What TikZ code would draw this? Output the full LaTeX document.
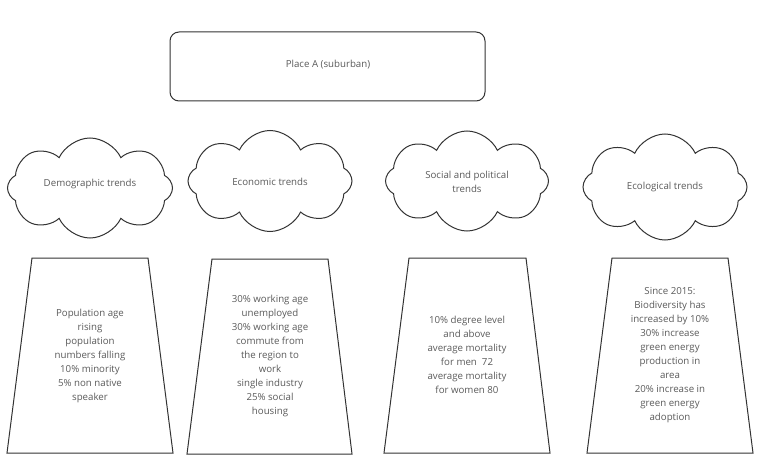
\documentclass[tikz,border=0pt]{standalone}
\usepackage{fontspec}
\setmainfont{Open Sans}
\usetikzlibrary{shapes.symbols}
\definecolor{linec}{HTML}{333333}
\definecolor{textc}{HTML}{5A5A5A}
\begin{document}
\begin{tikzpicture}[x=1pt,y=-1pt,
  box/.style={draw=linec,line width=1pt},
  cloudnode/.style={cloud,draw=linec,line width=1pt,cloud puffs=8,cloud puff arc=130,aspect=1.7,inner sep=0pt},
  txt/.style={text=textc,font=\fontsize{9.7}{14}\selectfont,align=center}]
\useasboundingbox (0,0) rectangle (768,468);
\draw[box,rounded corners=9pt] (170,32) rectangle (485,101);
\node[txt] (place) at (328,65) {Place A (suburban)};
% clouds
\node[cloudnode,minimum width=165pt,minimum height=100pt] (c1) at (90,188) {};
\node[cloudnode,minimum width=164pt,minimum height=101pt] (c2) at (270,181) {};
\node[cloudnode,minimum width=163pt,minimum height=100pt] (c3) at (467,181) {};
\node[cloudnode,minimum width=164pt,minimum height=106pt] (c4) at (665,187) {};
\node[txt] (c1t) at (90,184) {Demographic trends};
\node[txt] (c2t) at (270,182) {Economic trends};
\node[txt] (c3t) at (467,182) {Social and political\\trends};
\node[txt] (c4t) at (665,187) {Ecological trends};
% trapezoids
\draw[box] (32,258) -- (148,258) -- (173,453) -- (7,453) -- cycle;
\draw[box] (212,259) -- (328,259) -- (352,454) -- (187,454) -- cycle;
\draw[box] (409,258) -- (526,258) -- (550,453) -- (384,453) -- cycle;
\draw[box] (612,258) -- (728,258) -- (753,453) -- (587,453) -- cycle;
\node[txt] (t1) at (90,356) {Population age\\rising\\population\\numbers falling\\10\% minority\\5\% non native\\speaker};
\node[txt] (t2) at (270,356) {30\% working age\\unemployed\\30\% working age\\commute from\\the region to\\work\\single industry\\25\% social\\housing};
\node[txt] (t3) at (467,355) {10\% degree level\\and above\\average mortality\\for men\ \ 72\\average mortality\\for women 80};
\node[txt] (t4) at (670,355) {Since 2015:\\Biodiversity has\\increased by 10\%\\30\% increase\\green energy\\production in\\area\\20\% increase in\\green energy\\adoption};
\end{tikzpicture}
\end{document}
